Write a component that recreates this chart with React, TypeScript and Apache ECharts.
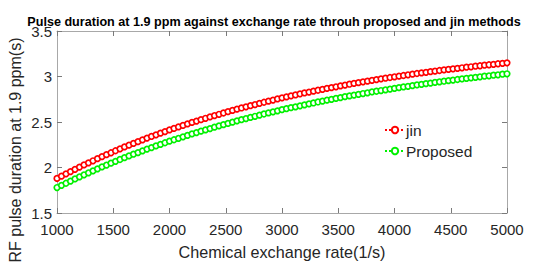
import React, { useEffect, useRef } from "react";
import * as echarts from "echarts";

const titleText = "Pulse duration at 1.9 ppm against exchange rate throuh proposed and jin methods";
const xName = "Chemical exchange rate(1/s)";
const yName = "RF pulse duration at 1.9 ppm(s)";
const seriesNames = ["jin", "Proposed"];

const xs = [
  1000, 1040, 1080, 1120, 1160, 1200, 1240, 1280, 1320, 1360, 1400, 1440, 1480, 1520, 1560, 1600, 1640, 1680, 1720, 1760, 1800, 1840, 1880, 1920, 1960,
  2000, 2040, 2080, 2120, 2160, 2200, 2240, 2280, 2320, 2360, 2400, 2440, 2480, 2520, 2560, 2600, 2640, 2680, 2720, 2760, 2800, 2840, 2880, 2920, 2960,
  3000, 3040, 3080, 3120, 3160, 3200, 3240, 3280, 3320, 3360, 3400, 3440, 3480, 3520, 3560, 3600, 3640, 3680, 3720, 3760, 3800, 3840, 3880, 3920, 3960,
  4000, 4040, 4080, 4120, 4160, 4200, 4240, 4280, 4320, 4360, 4400, 4440, 4480, 4520, 4560, 4600, 4640, 4680, 4720, 4760, 4800, 4840, 4880, 4920, 4960,
  5000,
];

const jin = [
  1.880, 1.905, 1.930, 1.955, 1.980, 2.005, 2.028, 2.051, 2.074, 2.097, 2.120, 2.141, 2.162, 2.184, 2.205,
  2.226, 2.245, 2.265, 2.284, 2.304, 2.323, 2.341, 2.359, 2.377, 2.395, 2.413, 2.429, 2.446, 2.462, 2.479,
  2.495, 2.510, 2.525, 2.541, 2.556, 2.571, 2.585, 2.599, 2.613, 2.627, 2.641, 2.654, 2.667, 2.679, 2.692,
  2.705, 2.717, 2.729, 2.741, 2.753, 2.765, 2.776, 2.787, 2.797, 2.808, 2.819, 2.829, 2.839, 2.849, 2.859,
  2.869, 2.878, 2.887, 2.897, 2.906, 2.915, 2.924, 2.932, 2.941, 2.949, 2.958, 2.966, 2.974, 2.981, 2.989,
  2.997, 3.004, 3.011, 3.019, 3.026, 3.033, 3.040, 3.046, 3.053, 3.059, 3.066, 3.072, 3.078, 3.084, 3.090,
  3.096, 3.102, 3.107, 3.113, 3.118, 3.124, 3.129, 3.134, 3.140, 3.145, 3.150,
];

const proposed = [
  1.780, 1.804, 1.827, 1.851, 1.874, 1.898, 1.920, 1.942, 1.963, 1.985, 2.007, 2.027, 2.047, 2.068, 2.088,
  2.108, 2.127, 2.146, 2.164, 2.183, 2.202, 2.219, 2.237, 2.254, 2.272, 2.289, 2.305, 2.321, 2.337, 2.353,
  2.369, 2.384, 2.399, 2.413, 2.428, 2.443, 2.457, 2.471, 2.484, 2.498, 2.512, 2.525, 2.538, 2.550, 2.563,
  2.576, 2.588, 2.600, 2.611, 2.623, 2.635, 2.646, 2.657, 2.667, 2.678, 2.689, 2.699, 2.709, 2.720, 2.730,
  2.740, 2.749, 2.759, 2.768, 2.778, 2.787, 2.796, 2.804, 2.813, 2.821, 2.830, 2.838, 2.846, 2.854, 2.862,
  2.870, 2.877, 2.885, 2.892, 2.900, 2.907, 2.914, 2.921, 2.928, 2.935, 2.942, 2.948, 2.954, 2.961, 2.967,
  2.973, 2.979, 2.985, 2.991, 2.997, 3.003, 3.008, 3.014, 3.019, 3.025, 3.030,
];

const colors = ["#ff0000", "#00f000"];
const FONT = "'Liberation Sans', Arial, Helvetica, sans-serif";

export default function App() {
  const ref = useRef<HTMLDivElement>(null);
  useEffect(() => {
    if (!ref.current) return;
    const chart = echarts.init(ref.current, null, { renderer: "svg" });
    const axisLineColor = "#a8a8a8";
    const tickColor = "#7a7a7a";
    const labelColor = "#262626";
    const xBase = {
      type: "value" as const,
      min: 1000,
      max: 5000,
      interval: 500,
      splitLine: { show: false },
      axisLine: { show: true, onZero: false, lineStyle: { color: axisLineColor, width: 1 } },
      axisTick: { show: true, inside: true, length: 5, lineStyle: { color: tickColor } },
    };
    const yBase = {
      type: "value" as const,
      min: 1.5,
      max: 3.5,
      interval: 0.5,
      splitLine: { show: false },
      axisLine: { show: true, onZero: false, lineStyle: { color: axisLineColor, width: 1 } },
      axisTick: { show: true, inside: true, length: 5, lineStyle: { color: tickColor } },
    };
    const mkSeries = (name: string, vals: number[], color: string) => ({
      name,
      type: "line",
      data: xs.map((x, i) => [x, vals[i]]),
      symbol: "circle",
      symbolSize: 5.5,
      showAllSymbol: true,
      lineStyle: { color, width: 1.5, type: "dotted" },
      itemStyle: { color: "#ffffff", borderColor: color, borderWidth: 1.7 },
      emphasis: { disabled: true },
    });
    chart.setOption({
      animation: false,
      backgroundColor: "#ffffff",
      title: {
        text: titleText,
        left: 269,
        top: 11,
        textAlign: "center",
        textStyle: { fontFamily: FONT, fontSize: 12.6, lineHeight: 12, fontWeight: "bold", color: "#000" },
      },
      grid: { left: 57, top: 31, right: 42, bottom: 46, containLabel: false },
      legend: {
        left: 379,
        top: 117,
        orient: "vertical",
        itemGap: 5,
        itemWidth: 20,
        itemHeight: 8,
        textStyle: { fontFamily: FONT, fontSize: 15.5, color: labelColor, padding: [0, 0, 0, -4] },
        data: seriesNames,
      },
      xAxis: [
        {
          ...xBase,
          position: "bottom",
          name: xName,
          nameLocation: "middle",
          nameGap: 31,
          nameTextStyle: { fontFamily: FONT, fontSize: 16.2, color: labelColor },
          axisLabel: {
            fontFamily: FONT,
            fontSize: 15,
            color: labelColor,
            margin: 9,
            formatter: (v: number) => String(v),
          },
        },
        { ...xBase, position: "top", axisLabel: { show: false } },
      ],
      yAxis: [
        {
          ...yBase,
          position: "left",
          axisLabel: { fontFamily: FONT, fontSize: 15, lineHeight: 12, color: labelColor, margin: 5 },
        },
        { ...yBase, position: "right", axisLabel: { show: false } },
      ],
      graphic: [
        {
          type: "text",
          x: 15.5,
          y: 150,
          rotation: Math.PI / 2,
          style: {
            text: yName,
            fontFamily: FONT,
            fontSize: 16,
            fill: labelColor,
            align: "center",
            verticalAlign: "middle",
          },
        },
      ],
      series: [mkSeries(seriesNames[0], jin, colors[0]), mkSeries(seriesNames[1], proposed, colors[1])],
    });
    return () => chart.dispose();
  }, []);
  return <div ref={ref} style={{ position: "fixed", left: 0, top: 0, width: 549, height: 265 }} />;
}
